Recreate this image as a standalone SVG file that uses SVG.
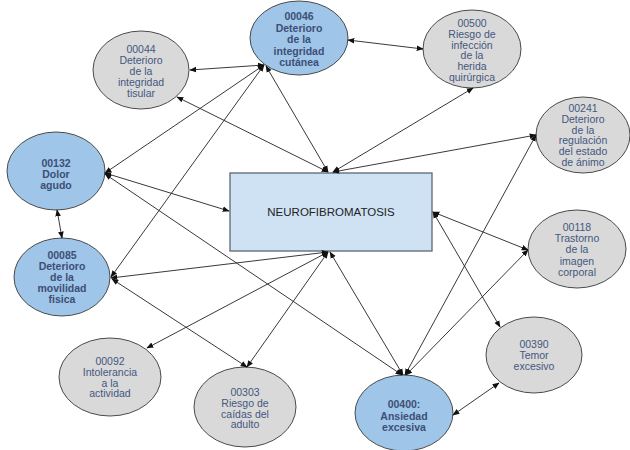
<svg xmlns="http://www.w3.org/2000/svg" width="630" height="450" viewBox="0 0 630 450">
<defs>
<marker id="ah" viewBox="0 0 10 10" refX="9" refY="5" markerWidth="7" markerHeight="7" markerUnits="userSpaceOnUse" orient="auto-start-reverse">
<path d="M0,1 L10,5 L0,9 Z" fill="#111"/>
</marker>
<style>
.blue{fill:#9fc5e8;stroke:#4a4a4a;stroke-width:1}
.gray{fill:#d9d9d9;stroke:#4a4a4a;stroke-width:1}
.lbl{font-family:"Liberation Sans",Arial,sans-serif;font-size:10.5px;fill:#44577f;text-anchor:middle}
.b{font-weight:bold;fill:#3d4f75}
.conn line{stroke:#222;stroke-width:0.9;marker-start:url(#ah);marker-end:url(#ah)}
</style>
</defs>
<rect width="630" height="450" fill="#fff"/>

<g id="center">
<rect x="230" y="173" width="202" height="78" fill="#cfe2f3" stroke="#5f6670" stroke-width="1.3"/>
<text x="331" y="216" font-family="'Liberation Sans',Arial,sans-serif" font-size="11.5" fill="#222" text-anchor="middle">NEUROFIBROMATOSIS</text>
</g>

<g id="n00044">
<ellipse class="gray" cx="141" cy="70" rx="48" ry="39"/>
<text class="lbl" x="141" y="53">00044<tspan x="141" dy="11">Deterioro</tspan><tspan x="141" dy="11">de la</tspan><tspan x="141" dy="11">integridad</tspan><tspan x="141" dy="11">tisular</tspan></text>
</g>

<g id="n00046">
<ellipse class="blue" cx="299" cy="38" rx="49" ry="37"/>
<text class="lbl b" x="299" y="20">00046<tspan x="299" dy="11.5">Deterioro</tspan><tspan x="299" dy="11.5">de la</tspan><tspan x="299" dy="11.5">integridad</tspan><tspan x="299" dy="11.5">cutánea</tspan></text>
</g>

<g id="n00500">
<ellipse class="gray" cx="472" cy="49" rx="49" ry="39"/>
<text class="lbl" x="472" y="27">00500<tspan x="472" dy="10.8">Riesgo de</tspan><tspan x="472" dy="10.8">infección</tspan><tspan x="472" dy="10.8">de la</tspan><tspan x="472" dy="10.8">herida</tspan><tspan x="472" dy="10.8">quirúrgica</tspan></text>
</g>

<g id="n00241">
<ellipse class="gray" cx="583" cy="135" rx="47" ry="38"/>
<text class="lbl" x="583" y="112">00241<tspan x="583" dy="10.8">Deterioro</tspan><tspan x="583" dy="10.8">de la</tspan><tspan x="583" dy="10.8">regulación</tspan><tspan x="583" dy="10.8">del estado</tspan><tspan x="583" dy="10.8">de ánimo</tspan></text>
</g>

<g id="n00132">
<ellipse class="blue" cx="56" cy="171" rx="49" ry="39"/>
<text class="lbl b" x="56" y="167">00132<tspan x="56" dy="10.8">Dolor</tspan><tspan x="56" dy="10.8">agudo</tspan></text>
</g>

<g id="n00085">
<ellipse class="blue" cx="62" cy="277" rx="48" ry="39"/>
<text class="lbl b" x="62" y="259">00085<tspan x="62" dy="11">Deterioro</tspan><tspan x="62" dy="11">de la</tspan><tspan x="62" dy="11">movilidad</tspan><tspan x="62" dy="11">fisica</tspan></text>
</g>

<g id="n00092">
<ellipse class="gray" cx="110" cy="377" rx="51" ry="39"/>
<text class="lbl" x="110" y="365">00092<tspan x="110" dy="10.8">Intolerancia</tspan><tspan x="110" dy="10.8">a la</tspan><tspan x="110" dy="10.8">actividad</tspan></text>
</g>

<g id="n00303">
<ellipse class="gray" cx="245" cy="407" rx="51" ry="40"/>
<text class="lbl" x="245" y="396">00303<tspan x="245" dy="10.8">Riesgo de</tspan><tspan x="245" dy="10.8">caídas del</tspan><tspan x="245" dy="10.8">adulto</tspan></text>
</g>

<g id="n00118">
<ellipse class="gray" cx="577" cy="249" rx="49" ry="39"/>
<text class="lbl" x="577" y="231">00118<tspan x="577" dy="11.2">Trastorno</tspan><tspan x="577" dy="11.2">de la</tspan><tspan x="577" dy="11.2">imagen</tspan><tspan x="577" dy="11.2">corporal</tspan></text>
</g>

<g id="n00390">
<ellipse class="gray" cx="534" cy="355" rx="48" ry="38"/>
<text class="lbl" x="534" y="348">00390<tspan x="534" dy="11">Temor</tspan><tspan x="534" dy="11">excesivo</tspan></text>
</g>

<g id="n00400">
<ellipse class="blue" cx="404" cy="413" rx="49" ry="38"/>
<text class="lbl b" x="404" y="408">00400:<tspan x="404" dy="11.5">Ansiedad</tspan><tspan x="404" dy="11.5">excesiva</tspan></text>
</g>

<g id="connectors" class="conn">
<line x1="190" y1="70" x2="264" y2="65"/>
<line x1="348" y1="40" x2="423" y2="49"/>
<line x1="266" y1="66" x2="328" y2="172"/>
<line x1="177" y1="97" x2="328" y2="172"/>
<line x1="264" y1="65" x2="105" y2="173"/>
<line x1="264" y1="65" x2="111" y2="277"/>
<line x1="105" y1="173" x2="229" y2="211"/>
<line x1="105" y1="174" x2="402" y2="375"/>
<line x1="57" y1="210" x2="62" y2="238"/>
<line x1="328" y1="252" x2="111" y2="278"/>
<line x1="328" y1="252" x2="147" y2="348"/>
<line x1="328" y1="252" x2="247" y2="367"/>
<line x1="330" y1="252" x2="403" y2="375"/>
<line x1="112" y1="279" x2="247" y2="367"/>
<line x1="333" y1="172" x2="473" y2="88"/>
<line x1="333" y1="172" x2="536" y2="135"/>
<line x1="433" y1="212" x2="528" y2="250"/>
<line x1="433" y1="212" x2="500" y2="327"/>
<line x1="405" y1="375" x2="536" y2="135"/>
<line x1="406" y1="375" x2="528" y2="250"/>
<line x1="453" y1="415" x2="499" y2="383"/>
</g>
</svg>
